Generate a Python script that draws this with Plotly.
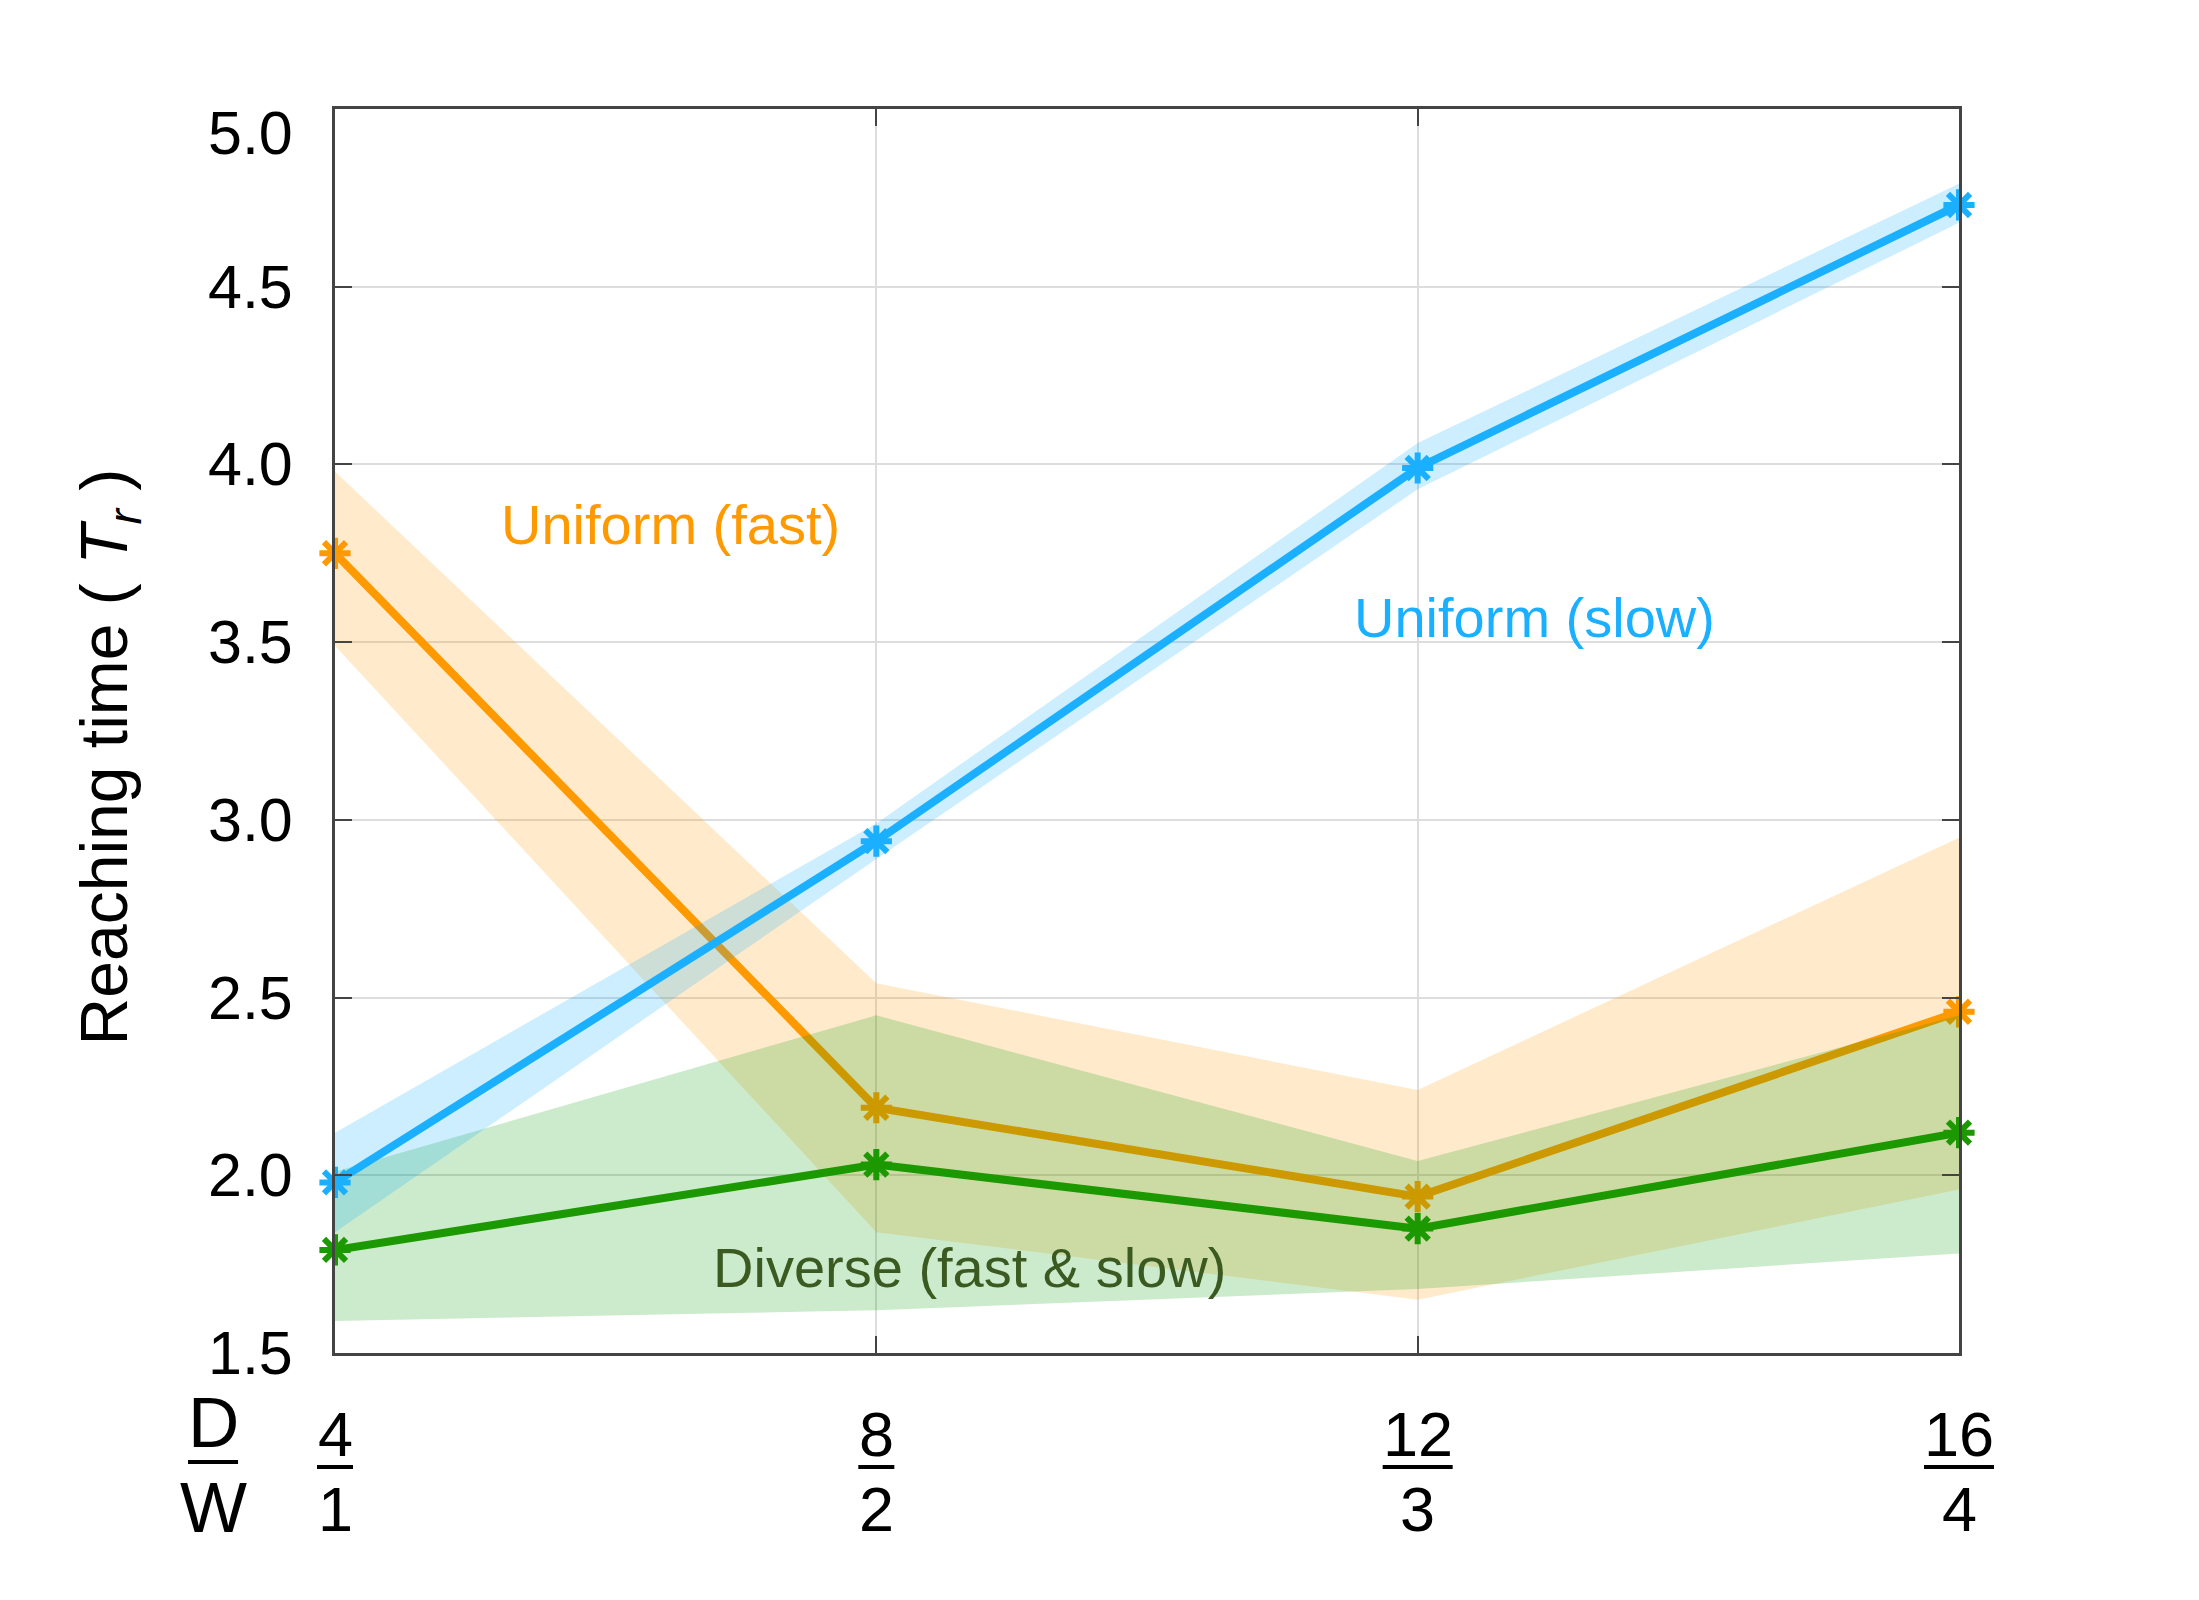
import plotly.graph_objects as go

# ---- data ----
x_vals = [4, 8, 12, 16]
x_num = ["4", "8", "12", "16"]
x_den = ["1", "2", "3", "4"]

slow_mean = [1.98, 2.94, 3.99, 4.73]
slow_lo = [1.84, 2.89, 3.93, 4.68]
slow_hi = [2.12, 2.99, 4.06, 4.79]

fast_mean = [3.75, 2.19, 1.94, 2.46]
fast_lo = [3.49, 1.84, 1.65, 1.96]
fast_hi = [3.98, 2.54, 2.24, 2.95]

div_mean = [1.79, 2.03, 1.85, 2.12]
div_lo = [1.59, 1.62, 1.68, 1.78]
div_hi = [2.01, 2.45, 2.04, 2.45]

y_ticks = [1.5, 2.0, 2.5, 3.0, 3.5, 4.0, 4.5, 5.0]
y_tick_text = ["1.5", "2.0", "2.5", "3.0", "3.5", "4.0", "4.5", "5.0"]
X_RANGE = [4, 16]
Y_RANGE = [1.5, 5.0]

FONT = "Liberation Sans, Arial, Helvetica, sans-serif"
C_BLUE = "rgb(26,176,255)"
C_ORANGE = "rgb(255,153,0)"
C_GREEN = "rgb(28,152,0)"

fig = go.Figure()


def band(lo, hi, rgba):
    fig.add_trace(go.Scatter(
        x=x_vals + x_vals[::-1], y=hi + lo[::-1], fill="toself",
        fillcolor=rgba, line=dict(width=0), mode="lines",
        hoverinfo="skip", showlegend=False))


def line(y, color):
    fig.add_trace(go.Scatter(
        x=x_vals, y=y, mode="lines+markers", cliponaxis=False,
        line=dict(color=color, width=8),
        marker=dict(symbol="asterisk-open", size=26,
                    line=dict(color=color, width=6)),
        showlegend=False))


band(fast_lo, fast_hi, "rgba(255,153,0,0.2)")
line(fast_mean, C_ORANGE)
band(div_lo, div_hi, "rgba(0,153,0,0.2)")
line(div_mean, C_GREEN)
band(slow_lo, slow_hi, "rgba(0,170,255,0.2)")
line(slow_mean, C_BLUE)

axis_common = dict(
    showline=True, linecolor="#444444", linewidth=3, mirror="ticks",
    ticks="inside", ticklen=17, tickwidth=2, tickcolor="#444444",
    showgrid=True, gridcolor="#dddddd", gridwidth=2, zeroline=False,
)

fig.update_xaxes(range=X_RANGE, tickvals=x_vals, showticklabels=False,
                 **axis_common)
fig.update_yaxes(range=Y_RANGE, tickvals=y_ticks, showticklabels=False,
                 **axis_common)

annotations = []
shapes = []

# y tick labels (top label sits a bit lower, as in the reference)
for yv, t in zip(y_ticks, y_tick_text):
    annotations.append(dict(x=0, y=yv, xref="paper", yref="y", text=t,
                            showarrow=False, xshift=-40,
                            yshift=(-24 if yv == Y_RANGE[1] else 0),
                            xanchor="right", yanchor="middle",
                            font=dict(family=FONT, size=61, color="black")))

# fraction tick labels
for xv, n, d in zip(x_vals, x_num, x_den):
    annotations.append(dict(x=xv, y=0, xref="x", yref="paper", text=n,
                            showarrow=False, yshift=-81, xanchor="center",
                            yanchor="middle",
                            font=dict(family=FONT, size=63, color="black")))
    annotations.append(dict(x=xv, y=0, xref="x", yref="paper", text=d,
                            showarrow=False, yshift=-156, xanchor="center",
                            yanchor="middle",
                            font=dict(family=FONT, size=63, color="black")))
    half = 18 if len(n) == 1 else 35
    px = (xv - X_RANGE[0]) / (X_RANGE[1] - X_RANGE[0])
    shapes.append(dict(type="line", xref="paper", yref="paper",
                       xsizemode="pixel", xanchor=px, x0=-half, x1=half,
                       ysizemode="pixel", yanchor=0, y0=-114, y1=-114,
                       line=dict(color="black", width=4)))

# D / W label
annotations.append(dict(x=-0.0751, y=0, xref="paper", yref="paper", text="D",
                        showarrow=False, yshift=-69, xanchor="center",
                        yanchor="middle",
                        font=dict(family=FONT, size=71, color="black")))
annotations.append(dict(x=-0.0751, y=0, xref="paper", yref="paper", text="W",
                        showarrow=False, yshift=-154, xanchor="center",
                        yanchor="middle",
                        font=dict(family=FONT, size=71, color="black")))
shapes.append(dict(type="line", xref="paper", yref="paper",
                   xsizemode="pixel", xanchor=-0.0751, x0=-25, x1=25,
                   ysizemode="pixel", yanchor=0, y0=-109, y1=-109,
                   line=dict(color="black", width=4)))

# y-axis title
annotations.append(dict(x=-0.139, y=0.479, xref="paper", yref="paper",
                        text="Reaching time ( <i>T<sub>r</sub></i> )",
                        textangle=-90, showarrow=False,
                        xanchor="center", yanchor="middle",
                        font=dict(family=FONT, size=66, color="black")))

# series labels
annotations.append(dict(x=6.48, y=3.83, xref="x", yref="y",
                        text="Uniform (fast)", showarrow=False,
                        xanchor="center", yanchor="middle",
                        font=dict(family=FONT, size=56, color=C_ORANGE)))
annotations.append(dict(x=12.86, y=3.57, xref="x", yref="y",
                        text="Uniform (slow)", showarrow=False,
                        xanchor="center", yanchor="middle",
                        font=dict(family=FONT, size=56, color=C_BLUE)))
annotations.append(dict(x=8.69, y=1.74, xref="x", yref="y",
                        text="Diverse (fast &amp; slow)", showarrow=False,
                        xanchor="center", yanchor="middle",
                        font=dict(family=FONT, size=56, color="#3b5a22")))

fig.update_layout(
    width=2199, height=1600,
    margin=dict(l=327, r=248, t=101, b=255, autoexpand=False),
    plot_bgcolor="white", paper_bgcolor="white",
    annotations=annotations, shapes=shapes,
    font=dict(family=FONT),
)

fig.write_html("out.html")
